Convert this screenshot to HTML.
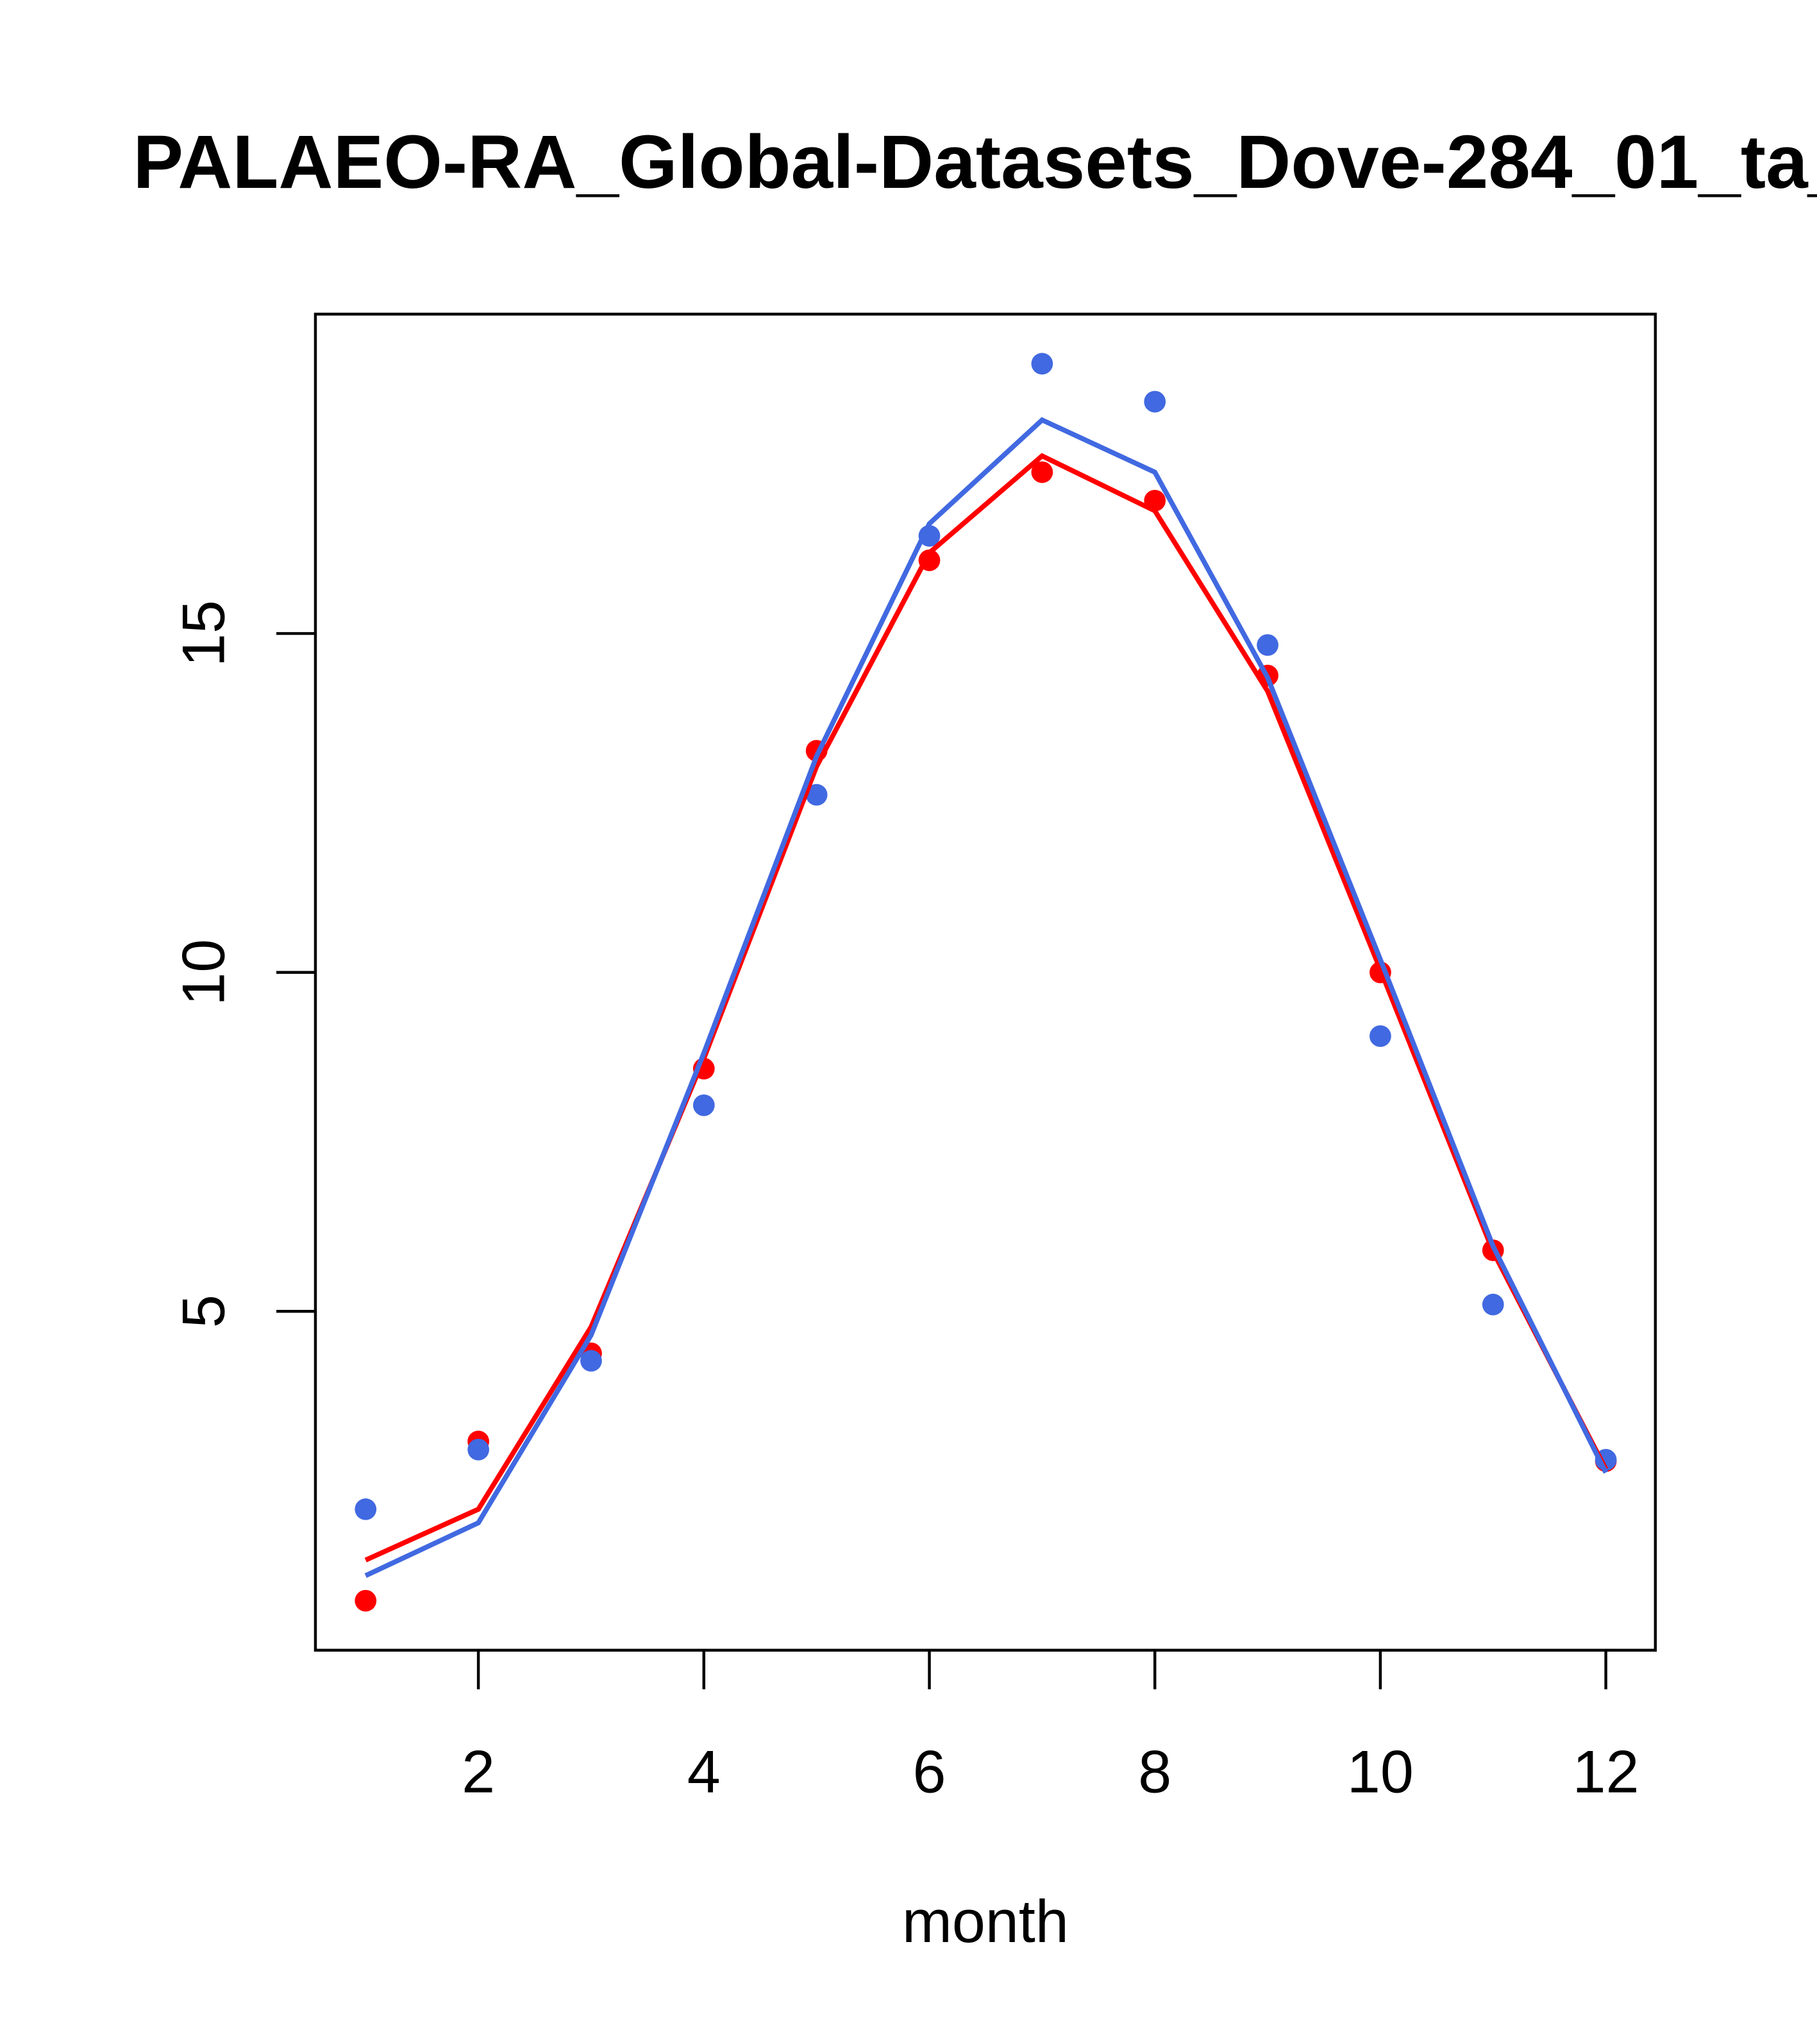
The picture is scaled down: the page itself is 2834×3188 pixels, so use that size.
<!DOCTYPE html>
<html><head><meta charset="utf-8"><style>
html,body{margin:0;padding:0;background:#fff;overflow:hidden}
svg{display:block;font-family:"Liberation Sans",Arial,sans-serif}
</style></head><body>
<svg id="chart" width="2834" height="3188" viewBox="0 0 1394 1568.1" preserveAspectRatio="none" xmlns="http://www.w3.org/2000/svg">
<text x="102" y="144" font-size="58" font-weight="bold">PALAEO-RA_Global-Datasets_Dove-284_01_ta_monthly_climatology</text>
<rect x="242" y="241" width="1028" height="1025" fill="none" stroke="#000" stroke-width="2.2"/>
<g id="axes"></g>
<g id="series"></g>
<text x="756" y="1490" font-size="46" text-anchor="middle">month</text>
</svg>
<script>
const months = [1,2,3,4,5,6,7,8,9,10,11,12];
const redPoints = [0.73,3.08,4.38,8.58,13.27,16.08,17.38,16.96,14.38,10.0,5.9,2.79];
const bluePoints = [2.08,2.96,4.27,8.04,12.62,16.44,18.98,18.42,14.83,9.06,5.10,2.81];
const redLine = [1.33,2.08,4.77,8.73,13.04,16.19,17.62,16.81,14.15,10.04,5.88,2.67];
const blueLine = [1.10,1.88,4.65,8.81,13.19,16.62,18.15,17.38,14.35,10.19,5.96,2.62];
const xTicks = [2,4,6,8,10,12];
const yTicks = [5,10,15];

const NS = "http://www.w3.org/2000/svg";
const xs = m => 280.5 + (m - 1) * 86.5;
const ys = v => 746 - (v - 10) * 52;
function mk(tag, attrs, parent){
  const e = document.createElementNS(NS, tag);
  for (const k in attrs) e.setAttribute(k, attrs[k]);
  parent.appendChild(e);
  return e;
}
const axes = document.getElementById('axes');
const series = document.getElementById('series');
xTicks.forEach(t => {
  const l = mk('line', {x1: xs(t), x2: xs(t), y1: 1266, y2: 1296, stroke: '#000', 'stroke-width': 2.2}, axes);
  
  
  const tx = mk('text', {x: xs(t), y: 1375, 'font-size': 46, 'text-anchor': 'middle'}, axes);
  tx.textContent = t;
  
  
});
yTicks.forEach(t => {
  const l = mk('line', {x1: 212, x2: 242, y1: ys(t), y2: ys(t), stroke: '#000', 'stroke-width': 2.2}, axes);
  
  
  const tx = mk('text', {x: 0, y: 0, 'font-size': 46, 'text-anchor': 'middle', transform: `translate(172,${ys(t)}) rotate(-90)`}, axes);
  tx.textContent = t;
  
  
});
function line(vals, color, name){
  const p = mk('polyline', {points: vals.map((v,i) => xs(months[i]) + ',' + ys(v)).join(' '), fill: 'none', stroke: color, 'stroke-width': 3.8}, series);
  
  
}
function pts(vals, color, name){
  vals.forEach((v,i) => {
    const c = mk('circle', {cx: xs(months[i]), cy: ys(v), r: 8.3, fill: color}, series);
    
    
  });
}
pts(redPoints, '#ff0000', 'red-point');
pts(bluePoints, '#4169e1', 'blue-point');
line(redLine, '#ff0000', 'red-line');
line(blueLine, '#4169e1', 'blue-line');
</script>
</body></html>
